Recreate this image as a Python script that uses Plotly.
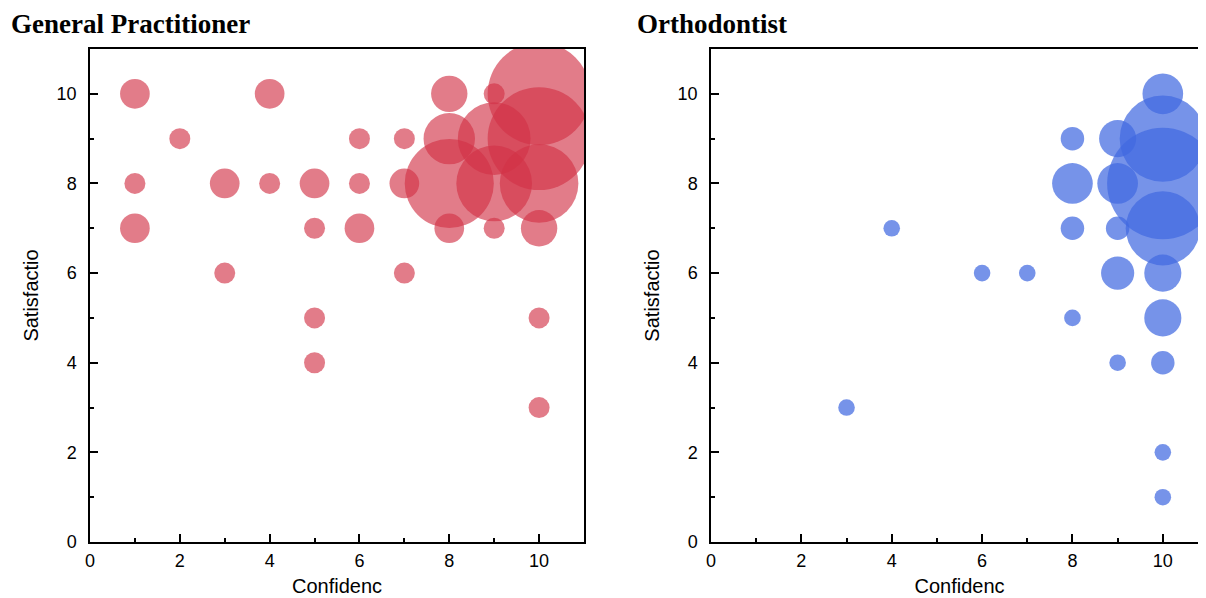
import plotly.graph_objects as go

# General Practitioner data: (confidence, satisfaction, count)
gp_conf = [1, 1, 1, 2, 3, 3, 4, 4, 5, 5, 5, 5, 6, 6, 6, 7, 7, 7,
           8, 8, 8, 8, 9, 9, 9, 9, 10, 10, 10, 10, 10, 10]
gp_sat = [10, 8, 7, 9, 8, 6, 10, 8, 8, 7, 5, 4, 9, 8, 7, 9, 8, 6,
          10, 9, 8, 7, 10, 9, 8, 7, 10, 9, 8, 7, 5, 3]
gp_count = [2, 1, 2, 1, 2, 1, 2, 1, 2, 1, 1, 1, 1, 1, 2, 1, 2, 1,
            3, 6, 18, 2, 1, 12, 13, 1, 24, 24, 14, 3, 1, 1]

# Orthodontist data
or_conf = [3, 4, 6, 7, 8, 8, 8, 8, 9, 9, 9, 9, 9,
           10, 10, 10, 10, 10, 10, 10, 10, 10]
or_sat = [3, 7, 6, 6, 9, 8, 7, 5, 9, 8, 7, 6, 4,
          10, 9, 8, 7, 6, 5, 4, 2, 1]
or_count = [1, 1, 1, 1, 2, 6, 2, 1, 5, 6, 2, 4, 1,
            6, 27, 45, 20, 5, 5, 2, 1, 1]

x_ticks = [0, 2, 4, 6, 8, 10]
y_ticks = [0, 2, 4, 6, 8, 10]

OFF = 8  # page body margin
W, H = 1208 - OFF, 598 - OFF
fig = go.Figure()

fig.add_trace(go.Scatter(
    x=gp_conf, y=gp_sat, mode="markers", xaxis="x", yaxis="y",
    marker=dict(size=gp_count, sizemode="area", sizeref=1 / (2 * 10.5 ** 2),
                color="rgb(210,50,70)", opacity=0.64, line=dict(width=0)),
    showlegend=False))
fig.add_trace(go.Scatter(
    x=or_conf, y=or_sat, mode="markers", xaxis="x2", yaxis="y2",
    marker=dict(size=or_count, sizemode="area", sizeref=1 / (2 * 8.3 ** 2),
                color="rgb(65,105,225)", opacity=0.72, line=dict(width=0)),
    showlegend=False))

FONT = "Liberation Sans, Arial"
tick_font = dict(family=FONT, size=18, color="black")
title_font = dict(family=FONT, size=20, color="black")
ax_common = dict(range=[0, 11], ticks="inside", ticklen=8,
                 tickwidth=1.5, tickcolor="black", showline=True, linecolor="black",
                 linewidth=1.5, mirror=True, showgrid=False, zeroline=False,
                 tickfont=tick_font, automargin=False,
                 minor=dict(dtick=1, ticks="inside", ticklen=4, tickwidth=1.5,
                            tickcolor="black", showgrid=False))

top = 49 - OFF
bot = 542 - OFF
title_y = (bot - (24 - OFF)) / (bot - top)
fig.update_layout(
    width=W, height=H,
    paper_bgcolor="white", plot_bgcolor="white",
    margin=dict(l=0, r=0, t=top, b=H - bot),
    xaxis=dict(domain=[(90 - OFF) / W, (584 - OFF) / W], anchor="y", tickvals=x_ticks,
               ticklabelstandoff=2,
               title=dict(text="Confidenc", font=title_font, standoff=9), **ax_common),
    yaxis=dict(domain=[0, 1], anchor="x", tickvals=y_ticks, ticklabelstandoff=8,
               title=dict(text="Satisfactio", font=title_font, standoff=13), **ax_common),
    xaxis2=dict(domain=[(711 - OFF) / W, 1.0], anchor="y2", tickvals=x_ticks,
                ticklabelstandoff=2,
                title=dict(text="Confidenc", font=title_font, standoff=9), **ax_common),
    yaxis2=dict(domain=[0, 1], anchor="x2", tickvals=y_ticks, ticklabelstandoff=8,
                title=dict(text="Satisfactio", font=title_font, standoff=13), **ax_common),
    annotations=[
        dict(text="<b>General Practitioner</b>", xref="paper", yref="paper",
             x=(10 - OFF) / W, y=title_y, xanchor="left", yanchor="middle",
             showarrow=False, borderpad=0,
             font=dict(family="Liberation Serif", size=27, color="black")),
        dict(text="<b>Orthodontist</b>", xref="paper", yref="paper",
             x=(636 - OFF) / W, y=title_y, xanchor="left", yanchor="middle",
             showarrow=False, borderpad=0,
             font=dict(family="Liberation Serif", size=27, color="black")),
    ],
)

fig.write_html("out.html")
